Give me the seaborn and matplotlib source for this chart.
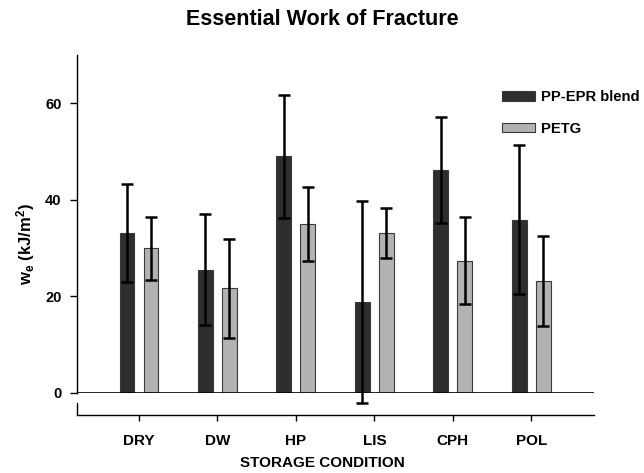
import numpy as np
import pandas as pd
import matplotlib
matplotlib.use("Agg")
import matplotlib.pyplot as plt
import seaborn as sns

conditions = ["DRY", "DW", "HP", "LIS", "CPH", "POL"]
materials = ["PP-EPR blend", "PETG"]
pp_epr_mean = [33.1, 25.5, 49.0, 18.8, 46.1, 35.9]
pp_epr_err = [10.2, 11.5, 12.8, 20.9, 11.0, 15.4]
petg_mean = [29.9, 21.6, 34.9, 33.1, 27.4, 23.2]
petg_err = [6.5, 10.2, 7.7, 5.1, 9.0, 9.3]
y_ticks = [0, 20, 40, 60]

sns.set_theme(style="white")
plt.rcParams["font.family"] = ["Liberation Sans", "DejaVu Sans"]
plt.rcParams["font.weight"] = "bold"
plt.rcParams["axes.labelweight"] = "bold"
plt.rcParams["text.color"] = "black"
plt.rcParams["axes.labelcolor"] = "black"
plt.rcParams["xtick.color"] = "black"
plt.rcParams["ytick.color"] = "black"
plt.rcParams["mathtext.fontset"] = "custom"
plt.rcParams["mathtext.rm"] = "Liberation Sans:bold"
plt.rcParams["mathtext.bf"] = "Liberation Sans:bold"
plt.rcParams["mathtext.it"] = "Liberation Sans:bold"

df = pd.DataFrame({
    "cond": conditions * 2,
    "material": [materials[0]] * 6 + [materials[1]] * 6,
    "we": pp_epr_mean + petg_mean,
})
errs = {materials[0]: pp_epr_err, materials[1]: petg_err}

fig = plt.figure(figsize=(6.44, 4.73), dpi=100)
ax = fig.add_axes([0.1196, 0.1698, 0.8027, 0.7139])

palette = {materials[0]: "#2e2e2e", materials[1]: "#b2b2b2"}
sns.barplot(data=df, x="cond", y="we", hue="material", order=conditions,
            hue_order=materials, palette=palette, errorbar=None,
            width=0.61, gap=0.38, edgecolor="#3a3a3a", linewidth=0.8,
            saturation=1, ax=ax)

# error bars placed at bar centers from the library
for cont, mat in zip(ax.containers, materials):
    for p, e in zip(cont.patches, errs[mat]):
        xc = p.get_x() + p.get_width() / 2
        h = p.get_height()
        ax.errorbar(xc, h, yerr=e, fmt="none", ecolor="black", elinewidth=1.8,
                    capsize=4, capthick=1.8, clip_on=False, zorder=5)

ax.set_xlim(-0.79, 5.80)
ax.set_ylim(0, 70)
ax.axhline(0, color="#000000", lw=1.2, zorder=6)
ax.set_yticks(y_ticks)
ax.set_yticklabels([str(t) for t in y_ticks], fontsize=10.5, fontweight="bold")
ax.set_xticks(range(len(conditions)))
ax.set_xticklabels(conditions, fontsize=10.5, fontweight="bold")

for s in ["top", "right"]:
    ax.spines[s].set_visible(False)
ax.spines["left"].set_color("black")
ax.spines["left"].set_linewidth(1.0)
ax.spines["bottom"].set_color("black")
ax.spines["bottom"].set_linewidth(1.0)
ax.spines["bottom"].set_position(("outward", 16))
ax.tick_params(axis="y", direction="out", length=5, width=1.0, color="black",
               left=True, pad=6)
ax.tick_params(axis="x", direction="out", length=4, width=1.0, color="black",
               bottom=True, pad=10)
# small stub joining the offset x-axis on the left
ax.plot([0, 0], [-0.03, -0.0665], transform=ax.transAxes, color="black",
        lw=1.0, clip_on=False)

ax.set_xlabel("")
ax.set_ylabel(r"w$_\mathregular{e}$ (kJ/m$^\mathregular{2}$)", fontsize=12,
              fontweight="bold")
ax.yaxis.set_label_coords(-0.078, 0.44)
fig.text(0.5, 0.021, "STORAGE CONDITION", ha="center", va="center",
         fontsize=11, fontweight="bold")
fig.text(0.5, 0.958, "Essential Work of Fracture", ha="center", va="center",
         fontsize=15.5, fontweight="bold")

leg = ax.legend(loc="upper left", bbox_to_anchor=(0.771, 0.822),
                bbox_transform=fig.transFigure, frameon=False,
                fontsize=10.6, handlelength=2.2, handleheight=0.6,
                labelspacing=1.2, handletextpad=0.45, borderaxespad=0)
for t in leg.get_texts():
    t.set_fontweight("bold")
    t.set_color("black")

plt.setp(ax.get_xticklabels(), fontweight="bold")
fig.savefig("out.png", dpi=100)
